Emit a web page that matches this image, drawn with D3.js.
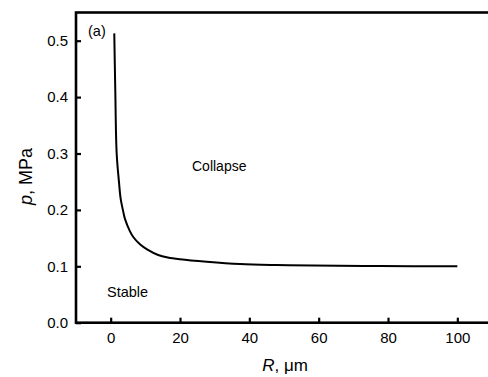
<!DOCTYPE html>
<html>
<head>
<meta charset="utf-8">
<script src="https://cdn.jsdelivr.net/npm/d3@7"></script>
<style>
  html, body { margin: 0; padding: 0; background: #fff; overflow: hidden; }
  svg { display: block; font-family: Arial, "Liberation Sans", sans-serif; }
</style>
</head>
<body>
<svg id="chart" width="488" height="377"></svg>
<script>
// Data
const radius = [1.04, 1.33, 1.73, 2.39, 2.88, 3.63, 4.12, 5.57, 6.52, 8.45, 10.5, 13.7, 16.5, 20, 27.7, 37.3, 47.9, 58.4, 77.7, 100];
const pressure = [0.513, 0.413, 0.300, 0.250, 0.220, 0.197, 0.184, 0.162, 0.152, 0.139, 0.130, 0.120, 0.1155, 0.1124, 0.108, 0.104, 0.1023, 0.1015, 0.1005, 0.100];
const xTicks = [0, 20, 40, 60, 80, 100];
const yTicks = [0.0, 0.1, 0.2, 0.3, 0.4, 0.5];
const xDomain = [-10, 110];
const yDomain = [0, 0.55];

(function () {
const svg = d3.select("#chart");
const mLeft = 76, mRight = 492, mTop = 12.5, mBottom = 322.7;

const x = d3.scaleLinear().domain(xDomain).range([mLeft, mRight]);
const y = d3.scaleLinear().domain(yDomain).range([mBottom, mTop]);

// Frame
svg.append("rect")
  .attr("x", mLeft).attr("y", mTop)
  .attr("width", mRight - mLeft).attr("height", mBottom - mTop)
  .attr("fill", "none").attr("stroke", "#000").attr("stroke-width", 2.6);

// X axis (ticks inward)
const xAxis = d3.axisBottom(x).tickValues(xTicks).tickSizeInner(-5).tickSizeOuter(0)
  .tickPadding(10).tickFormat(d3.format("d"));
const gx = svg.append("g").attr("transform", `translate(0,${mBottom})`).call(xAxis);
gx.select(".domain").remove();
gx.selectAll(".tick line").attr("stroke", "#000").attr("stroke-width", 2.2);
gx.selectAll(".tick text").attr("font-size", 15).attr("fill", "#000")
  .attr("dy", null).attr("y", 20);

// Y axis (ticks inward)
const yAxis = d3.axisLeft(y).tickValues(yTicks).tickSizeInner(-5).tickSizeOuter(0)
  .tickPadding(8).tickFormat(d3.format(".1f"));
const gy = svg.append("g").attr("transform", `translate(${mLeft},0)`).call(yAxis);
gy.select(".domain").remove();
gy.selectAll(".tick line").attr("stroke", "#000").attr("stroke-width", 2.2);
gy.selectAll(".tick text").attr("font-size", 15).attr("fill", "#000").attr("x", -8);

// Curve
const pts = radius.map((r, i) => [r, pressure[i]]);
const line = d3.line().x(d => x(d[0])).y(d => y(d[1])).curve(d3.curveCatmullRom.alpha(0.5));
svg.append("path").datum(pts)
  .attr("d", line).attr("fill", "none")
  .attr("stroke", "#000").attr("stroke-width", 2);

// Annotations
svg.append("text").attr("x", 88).attr("y", 36).attr("font-size", 14.5).text("(a)");
svg.append("text").attr("x", 192).attr("y", 171).attr("font-size", 14).text("Collapse");
svg.append("text").attr("x", 107).attr("y", 297).attr("font-size", 14.5).text("Stable");

// Axis titles
const xt = svg.append("text").attr("x", 285).attr("y", 371).attr("text-anchor", "middle").attr("font-size", 17);
xt.append("tspan").attr("font-style", "italic").text("R");
xt.append("tspan").text(", μm");

const yt = svg.append("text").attr("transform", "translate(32,176.5) rotate(-90)")
  .attr("text-anchor", "middle").attr("font-size", 18);
yt.append("tspan").attr("font-style", "italic").text("p");
yt.append("tspan").text(", MPa");
})();
</script>
</body>
</html>
